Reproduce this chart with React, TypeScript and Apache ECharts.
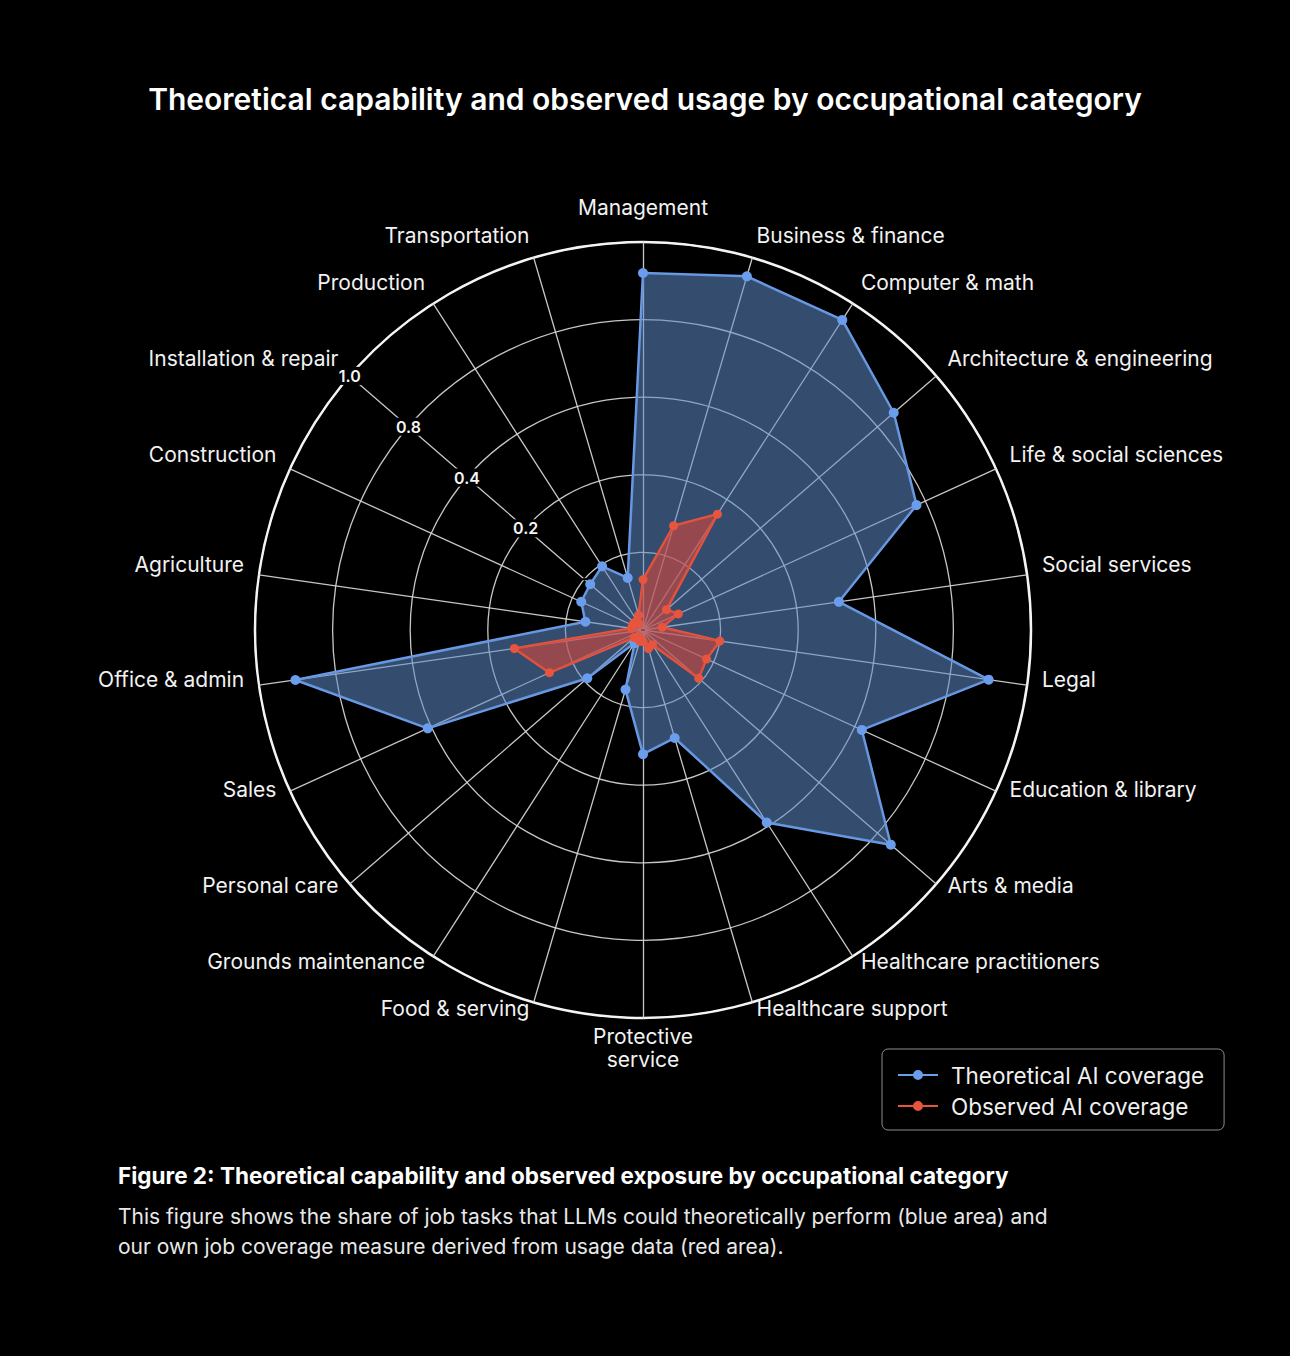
import React, { useEffect, useRef } from 'react';
import * as echarts from 'echarts';

const TITLE = 'Theoretical capability and observed usage by occupational category';
const CAPTION_TITLE = 'Figure 2: Theoretical capability and observed exposure by occupational category';
const CAPTION_BODY = [
  'This figure shows the share of job tasks that LLMs could theoretically perform (blue area) and',
  'our own job coverage measure derived from usage data (red area).',
];

// Clockwise from the top
const CATEGORIES = [
  'Management', 'Business & finance', 'Computer & math', 'Architecture & engineering',
  'Life & social sciences', 'Social services', 'Legal', 'Education & library', 'Arts & media',
  'Healthcare practitioners', 'Healthcare support', 'Protective\nservice', 'Food & serving',
  'Grounds maintenance', 'Personal care', 'Sales', 'Office & admin', 'Agriculture',
  'Construction', 'Installation & repair', 'Production', 'Transportation',
];

const THEORETICAL = [
  0.92, 0.95, 0.95, 0.855, 0.775, 0.51, 0.90, 0.62, 0.845, 0.59, 0.29,
  0.32, 0.16, 0.04, 0.19, 0.61, 0.905, 0.15, 0.175, 0.18, 0.195, 0.14,
];

const OBSERVED = [
  0.13, 0.28, 0.355, 0.08, 0.10, 0.05, 0.20, 0.18, 0.19, 0.045, 0.05,
  0.03, 0.03, 0.02, 0.03, 0.265, 0.335, 0.03, 0.03, 0.03, 0.02, 0.04,
];

const SERIES_NAMES = ['Theoretical AI coverage', 'Observed AI coverage'];
// Tick labels shown on the rings (ring 0..5), as printed in the figure
const RING_LABELS = ['', '', '0.2', '0.4', '0.8', '1.0'];
const LABELLED_AXIS = 'Installation & repair';

const BLUE = '#6b9ded';
const RED = '#e8553f';
const FONT = 'Inter, "Open Sans", sans-serif';
const GRID = 'rgba(215,215,215,0.92)';
const CENTER = [643, 630];
const NAME_CENTER = [643, 622];
const RADIUS = 388;

const LEGEND_ICON =
  'path://M0,5L40,5L40,7L0,7Z M15,6A5,5 0 1,1 25,6A5,5 0 1,1 15,6Z';

export default function App() {
  const ref = useRef<HTMLDivElement>(null);

  useEffect(() => {
    document.body.style.margin = '0';
    document.body.style.background = '#000';
    if (!ref.current) return;
    const chart = echarts.init(ref.current, undefined, { renderer: 'svg' });

    // ECharts lays radar indicators out counter-clockwise; reorder to get clockwise.
    const n = CATEGORIES.length;
    const order = [0, ...Array.from({ length: n - 1 }, (_, i) => n - 1 - i)];
    const cats = order.map((i) => CATEGORIES[i]);
    const theo = order.map((i) => THEORETICAL[i]);
    const obs = order.map((i) => OBSERVED[i]);

    const indicator = cats.map((name) => {
      const ind: any = { name, min: 0, max: 1 };
      if (name === LABELLED_AXIS) {
        ind.axisLabel = {
          show: true,
          color: '#f4f4f4',
          fontSize: 16,
          fontWeight: 600,
          fontFamily: FONT,
          margin: 0,
          align: 'center',
          verticalAlign: 'middle',
          backgroundColor: '#000',
          padding: [1, 2],
          formatter: (v: number) => RING_LABELS[Math.round(v * 5)] ?? '',
        };
      }
      return ind;
    });

    const hidden = {
      axisLine: { show: false },
      splitLine: { show: false },
      splitArea: { show: false },
      axisTick: { show: false },
      axisLabel: { show: false },
    };

    chart.setOption({
      animation: false,
      backgroundColor: '#000',
      title: [
        {
          text: TITLE,
          left: 'center',
          top: 79,
          textStyle: { color: '#ffffff', fontSize: 30, fontWeight: 600, fontFamily: FONT },
        },
        {
          text: CAPTION_TITLE,
          left: 113,
          top: 1159,
          textStyle: { color: '#ffffff', fontSize: 22.5, fontWeight: 700, fontFamily: FONT },
        },
        {
          text: CAPTION_BODY.join('\n'),
          left: 113,
          top: 1196,
          textStyle: { color: '#e8e8e8', fontSize: 21, fontWeight: 400, fontFamily: FONT, lineHeight: 30 },
        },
      ],
      legend: {
        orient: 'vertical',
        left: 882,
        top: 1049,
        padding: [14, 20, 12, 16],
        borderColor: '#8c8c8c',
        borderWidth: 1,
        borderRadius: 6,
        itemWidth: 40,
        itemHeight: 12,
        itemGap: 7,
        textStyle: { color: '#f0f0f0', fontSize: 22.5, fontFamily: FONT, lineHeight: 24, padding: [0, 0, 0, 8] },
        data: SERIES_NAMES.map((nm) => ({ name: nm, icon: LEGEND_ICON })),
      },
      radar: [
        {
          center: CENTER,
          radius: RADIUS,
          startAngle: 90,
          shape: 'circle',
          splitNumber: 5,
          indicator,
          axisName: { show: false },
          axisLine: { lineStyle: { color: GRID, width: 1.3 } },
          splitLine: { lineStyle: { color: GRID, width: 1.3 } },
          splitArea: { show: false },
          axisTick: { show: false },
          axisLabel: { show: false },
        },
        {
          center: CENTER,
          radius: RADIUS,
          startAngle: 90,
          shape: 'circle',
          splitNumber: 1,
          indicator: cats.map((name) => ({ name, min: 0, max: 1 })),
          axisName: { show: false },
          ...hidden,
          splitLine: { lineStyle: { color: '#f4f4f4', width: 2.5 } },
        },
        {
          center: NAME_CENTER,
          radius: RADIUS,
          startAngle: 90,
          shape: 'circle',
          splitNumber: 1,
          indicator: cats.map((name) => ({ name, min: 0, max: 1 })),
          nameGap: 15,
          axisName: { color: '#f2f2f2', fontSize: 21, fontFamily: FONT, lineHeight: 23 },
          ...hidden,
        },
      ],
      series: [
        {
          type: 'radar',
          radarIndex: 0,
          z: 3,
          data: [
            {
              name: SERIES_NAMES[0],
              value: theo,
              symbol: 'circle',
              symbolSize: 10,
              itemStyle: { color: BLUE },
              lineStyle: { color: BLUE, width: 2.5 },
              areaStyle: { color: 'rgba(95,140,200,0.55)', opacity: 1 },
            },
          ],
        },
        {
          type: 'radar',
          radarIndex: 0,
          z: 4,
          data: [
            {
              name: SERIES_NAMES[1],
              value: obs,
              symbol: 'circle',
              symbolSize: 9,
              itemStyle: { color: RED },
              lineStyle: { color: RED, width: 2.5 },
              areaStyle: { color: 'rgba(215,72,58,0.6)', opacity: 1 },
            },
          ],
        },
      ],
    });

    return () => chart.dispose();
  }, []);

  return <div ref={ref} style={{ width: 1290, height: 1356, background: '#000' }} />;
}
